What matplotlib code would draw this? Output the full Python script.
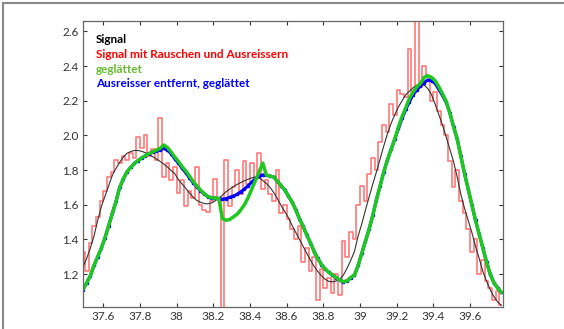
import numpy as np
import matplotlib.pyplot as plt
from matplotlib.lines import Line2D

# Abtastpunkte (gleichmaessiges Raster, 0.02 Schritt)
x = np.round(np.arange(37.49, 39.78, 0.02), 2)

signal = [1.24, 1.29, 1.35, 1.42, 1.51, 1.59, 1.65, 1.71, 1.77, 1.81,
          1.845, 1.875, 1.897, 1.907, 1.913, 1.913, 1.908, 1.90, 1.89, 1.877,
          1.864, 1.85, 1.835, 1.818, 1.798, 1.78, 1.745, 1.72, 1.695, 1.668,
          1.645, 1.625, 1.615, 1.607, 1.605, 1.61, 1.622, 1.638, 1.655, 1.675,
          1.69, 1.705, 1.717, 1.728, 1.738, 1.747, 1.755, 1.76, 1.755, 1.74,
          1.722, 1.70, 1.67, 1.635, 1.595, 1.56, 1.525, 1.48, 1.44, 1.40,
          1.36, 1.32, 1.28, 1.245, 1.215, 1.19, 1.17, 1.158, 1.155, 1.16,
          1.17, 1.195, 1.235, 1.28, 1.33, 1.42, 1.49, 1.57, 1.645, 1.72,
          1.79, 1.865, 1.94, 2.01, 2.07, 2.12, 2.165, 2.20, 2.235, 2.255,
          2.275, 2.29, 2.295, 2.29, 2.27, 2.235, 2.18, 2.12, 2.06, 1.99,
          1.92, 1.85, 1.76, 1.66, 1.58, 1.51, 1.44, 1.36, 1.29, 1.215,
          1.16, 1.11, 1.07, 1.04, 1.02]

noisy = [1.33, 1.22, 1.38, 1.48, 1.53, 1.62, 1.68, 1.76, 1.79, 1.86,
         1.84, 1.88, 1.86, 1.90, 1.87, 1.99, 1.93, 2.00, 1.88, 1.92,
         1.86, 2.10, 1.76, 1.84, 1.74, 1.82, 1.67, 1.74, 1.59, 1.68,
         1.64, 1.82, 1.60, 1.57, 1.56, 1.62, 1.75, 1.64, 0.95, 1.86,
         1.59, 1.70, 1.80, 1.66, 1.85, 1.72, 1.84, 1.76, 1.90, 1.69,
         1.74, 1.66, 1.62, 1.80, 1.55, 1.60, 1.52, 1.46, 1.40, 1.48,
         1.27, 1.35, 1.22, 1.30, 1.05, 1.23, 1.12, 1.18, 1.09, 1.20,
         1.08, 1.39, 1.30, 1.44, 1.40, 1.60, 1.71, 1.62, 1.78, 1.87,
         1.80, 1.96, 2.06, 2.02, 2.18, 2.12, 2.26, 2.24, 2.22, 2.50,
         2.25, 2.70, 2.28, 2.40, 2.34, 2.20, 2.25, 2.14, 2.06, 2.00,
         1.85, 1.70, 1.80, 1.62, 1.55, 1.46, 1.33, 1.40, 1.20, 1.28,
         1.16, 1.12, 1.05, 1.10, 1.02]

smooth = [1.11, 1.15, 1.19, 1.25, 1.30, 1.35, 1.41, 1.48, 1.55, 1.62,
          1.70, 1.75, 1.79, 1.815, 1.838, 1.855, 1.87, 1.883, 1.895, 1.905,
          1.915, 1.925, 1.945, 1.93, 1.905, 1.875, 1.85, 1.82, 1.795, 1.765,
          1.735, 1.71, 1.685, 1.665, 1.648, 1.64, 1.638, 1.637, 1.52, 1.51,
          1.515, 1.53, 1.545, 1.57, 1.60, 1.64, 1.69, 1.74, 1.79, 1.84,
          1.77, 1.765, 1.76, 1.735, 1.71, 1.685, 1.65, 1.615, 1.57, 1.52,
          1.475, 1.425, 1.38, 1.33, 1.29, 1.255, 1.23, 1.21, 1.195, 1.18,
          1.165, 1.156, 1.16, 1.18, 1.194, 1.25, 1.32, 1.39, 1.46, 1.54,
          1.63, 1.71, 1.79, 1.86, 1.92, 1.98, 2.05, 2.11, 2.16, 2.215,
          2.25, 2.28, 2.30, 2.335, 2.344, 2.335, 2.315, 2.28, 2.24, 2.196,
          2.13, 2.05, 1.98, 1.88, 1.78, 1.69, 1.60, 1.51, 1.43, 1.35,
          1.27, 1.20, 1.15, 1.12, 1.095]

cleaned = [1.11, 1.15, 1.19, 1.25, 1.30, 1.35, 1.41, 1.48, 1.55, 1.62,
           1.70, 1.75, 1.79, 1.815, 1.838, 1.855, 1.87, 1.883, 1.895, 1.905,
           1.912, 1.918, 1.925, 1.915, 1.895, 1.865, 1.84, 1.81, 1.785, 1.755,
           1.728, 1.705, 1.682, 1.663, 1.647, 1.64, 1.638, 1.635, 1.632, 1.635,
           1.643, 1.65, 1.66, 1.675, 1.69, 1.71, 1.73, 1.75, 1.765, 1.772,
           1.77, 1.765, 1.76, 1.735, 1.71, 1.685, 1.65, 1.615, 1.57, 1.52,
           1.475, 1.425, 1.38, 1.33, 1.29, 1.255, 1.23, 1.21, 1.195, 1.18,
           1.165, 1.156, 1.16, 1.18, 1.194, 1.25, 1.32, 1.39, 1.46, 1.54,
           1.63, 1.71, 1.79, 1.86, 1.92, 1.98, 2.04, 2.10, 2.15, 2.195,
           2.235, 2.262, 2.285, 2.305, 2.32, 2.315, 2.30, 2.265, 2.23, 2.19,
           2.13, 2.05, 1.98, 1.88, 1.78, 1.69, 1.60, 1.51, 1.43, 1.35,
           1.27, 1.20, 1.15, 1.12, 1.095]

labels = ["Signal", "Signal mit Rauschen und Ausreissern", "geglättet",
          "Ausreisser entfernt, geglättet"]
label_colors = ["black", "#ff0000", "#66bb33", "#0000ff"]

plt.rcParams['font.family'] = ['Lato', 'DejaVu Sans']

fig = plt.figure(figsize=(5.64, 3.29), dpi=100)
ax = fig.add_axes([0.1472, 0.0669, 0.7447, 0.8693])

ax.step(x, noisy, where='mid', color='#ff3030', lw=1.2, alpha=0.65)
ax.plot(x, signal, color='#333333', lw=0.8)
ax.plot(x, cleaned, color='#0000ff', lw=2.2, marker='s', markersize=1.4)
ax.plot(x, smooth, color='#1ec81e', lw=2.5)

ax.set_xlim(37.49, 39.78)
ax.set_ylim(1.01, 2.66)
ax.set_xticks([37.6, 37.8, 38.0, 38.2, 38.4, 38.6, 38.8, 39.0, 39.2, 39.4, 39.6])
ax.set_xticklabels(["%g" % t for t in ax.get_xticks()])
ax.set_yticks([1.2, 1.4, 1.6, 1.8, 2.0, 2.2, 2.4, 2.6])
ax.set_yticklabels(["%.1f" % t for t in ax.get_yticks()])
ax.tick_params(direction='in', length=3, width=0.8, top=True, right=True,
               labelsize=8.5, colors='#333333', pad=3)
for s in ax.spines.values():
    s.set_color('#666666')
    s.set_linewidth(0.9)

for i, (lab, c) in enumerate(zip(labels, label_colors)):
    ax.text(0.031, 0.934 - i * 0.051, lab, color=c, fontsize=8.5,
            fontweight='bold', transform=ax.transAxes, va='center')

# Rahmen links und oben
fig.add_artist(Line2D([0.006, 0.006], [0, 0.99], transform=fig.transFigure,
                      color='#888888', lw=1.5))
fig.add_artist(Line2D([0.006, 1.0], [0.99, 0.99], transform=fig.transFigure,
                      color='#888888', lw=1.5))

plt.savefig("out.png", dpi=100)
